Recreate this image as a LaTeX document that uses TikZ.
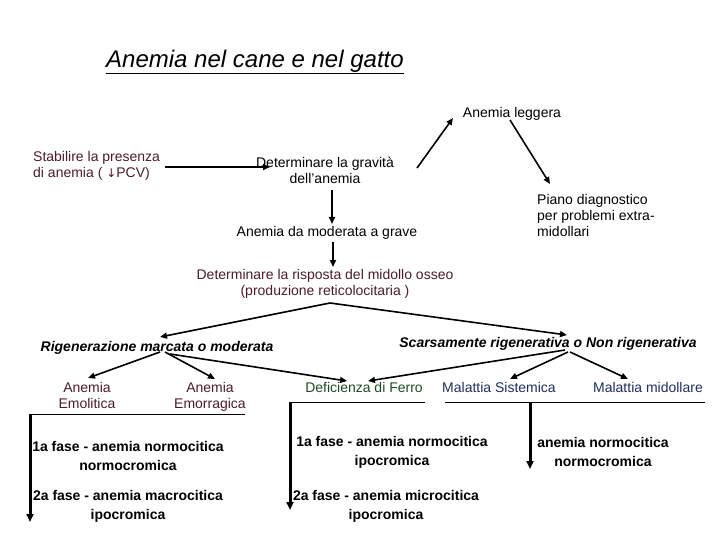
\documentclass[tikz,border=0pt]{standalone}
\usepackage{fontspec}
\setmainfont{Liberation Sans}
\usetikzlibrary{arrows.meta}
\definecolor{maroon}{HTML}{4A1C2C}
\definecolor{dgreen}{HTML}{1E4A22}
\definecolor{navy}{HTML}{1F2F5C}
\begin{document}
\begin{tikzpicture}[x=1pt,y=-1pt,
  t/.style={font=\fontsize{14}{16}\selectfont,align=center,inner sep=0pt},
  b/.style={font=\fontsize{14}{19}\selectfont\bfseries,align=center,inner sep=0pt},
  ar/.style={line width=1.6pt,-{Triangle[length=7pt,width=6pt]}},
  tk/.style={line width=3pt,-{Triangle[length=8pt,width=7pt]}},
  ln/.style={line width=0.8pt}]
\useasboundingbox (0,0) rectangle (720,540);
\node[inner sep=0pt,font=\fontsize{24}{26}\selectfont\itshape] (title) at (255,62) {\underline{Anemia nel cane e nel gatto}};
\node[t] (leg) at (512,114) {Anemia leggera};
\node[t,text=maroon,align=left,anchor=west] (stab) at (33,166) {Stabilire la presenza\\di anemia ( {\fontspec{DejaVu Sans}\fontsize{12}{14}\selectfont ↓}PCV)};
\node[t] (grav) at (325,170) {Determinare la gravità\\dell'anemia};
\node[t,align=left,anchor=west] (piano) at (537,215) {Piano diagnostico\\per problemi extra-\\midollari};
\node[t] (mod) at (327,233) {Anemia da moderata a grave};
\node[t,text=maroon] (ris) at (325,284) {Determinare la risposta del midollo osseo\\(produzione reticolocitaria )};
\node[inner sep=0pt,font=\fontsize{14}{16}\selectfont\bfseries\itshape] (rig) at (157,348) {Rigenerazione marcata o moderata};
\node[inner sep=0pt,font=\fontsize{14}{16}\selectfont\bfseries\itshape] (sca) at (548,344) {Scarsamente rigenerativa o Non rigenerativa};
\node[t,text=maroon] (emo) at (87,395) {Anemia\\Emolitica};
\node[t,text=maroon] (emr) at (210,397) {Anemia\\Emorragica};
\node[t,text=dgreen] (fer) at (364,387) {Deficienza di Ferro};
\node[t,text=navy] (sis) at (499,387) {Malattia Sistemica};
\node[t,text=navy] (mid) at (648,387) {Malattia midollare};
\node[b] (f1) at (128,456) {1a fase - anemia normocitica\\normocromica};
\node[b] (f2) at (128,506) {2a fase - anemia macrocitica\\ipocromica};
\node[b] (g1) at (392,452) {1a fase - anemia normocitica\\ipocromica};
\node[b] (g2) at (386,506) {2a fase - anemia microcitica\\ipocromica};
\node[b] (h1) at (603,452) {anemia normocitica\\normocromica};
\coordinate (l1a) at (30,414); \coordinate (l1b) at (245,414);
\coordinate (l2a) at (290,402); \coordinate (l2b) at (425,402);
\coordinate (l3a) at (445,402); \coordinate (l3b) at (705,402);
\coordinate (l3m) at (530,402);
\draw[ln] (l1a) -- (l1b); \draw[ln] (l2a) -- (l2b); \draw[ln] (l3a) -- (l3b);
\coordinate (e1) at (30,522); \coordinate (e2) at (290,510); \coordinate (e3) at (530,469);
\draw[tk] (l1a) -- (e1);
\draw[tk] (l2a) -- (e2);
\draw[tk] (l3m) -- (e3);
\draw[ar] (165,167) -- (270,167);
\draw[ar] (417,168) -- (453,118);
\draw[ar] (510,120) -- (550,184);
\draw[ar] (332,190) -- (332,224);
\draw[ar] (333,242) -- (333,267);
\draw[ar] (330,303) -- (160,337);
\draw[ar] (330,303) -- (567,335);
\draw[ar] (160,352) -- (88,378);
\draw[ar] (165,352) -- (215,379);
\draw[ar] (170,354) -- (347,381);
\draw[ar] (565,350) -- (368,381);
\draw[ar] (568,352) -- (510,379);
\draw[ar] (570,352) -- (628,379);
\end{tikzpicture}
\end{document}
